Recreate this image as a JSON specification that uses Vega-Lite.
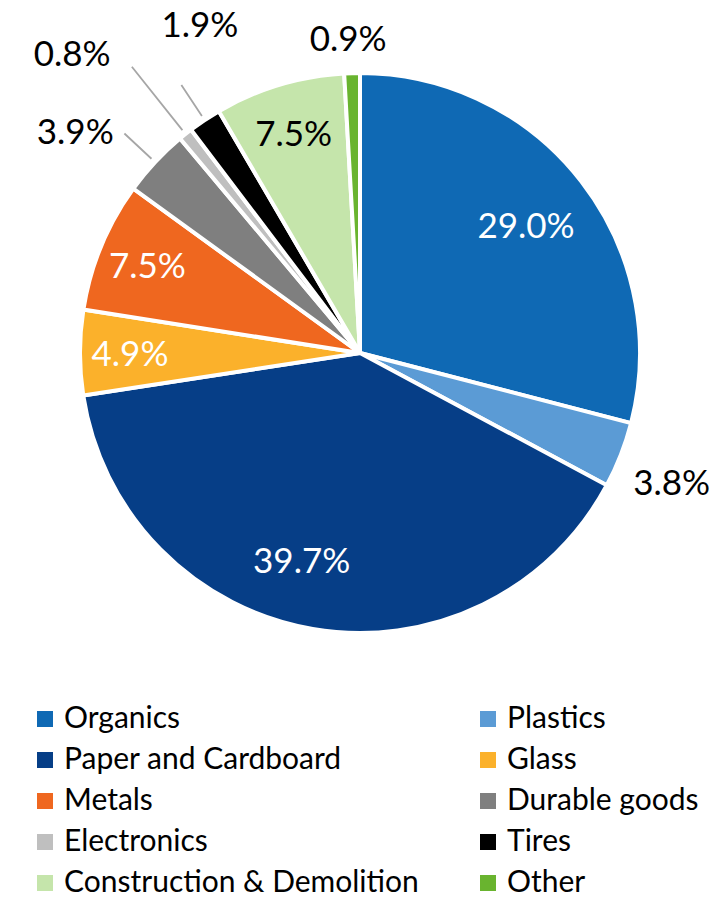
{
  "$schema": "https://vega.github.io/schema/vega-lite/v6.json",
  "width": 720,
  "height": 706,
  "padding": {"left": 0, "top": 0, "right": 0, "bottom": 191},
  "autosize": {"type": "none"},
  "background": "white",
  "config": {"view": {"stroke": null}, "font": "Lato", "text": {"font": "Lato"}},
  "data": {
    "values": [
      {"idx": 1, "category": "Organics", "pct": 29.0, "label": "29.0%"},
      {"idx": 2, "category": "Plastics", "pct": 3.8, "label": "3.8%"},
      {"idx": 3, "category": "Paper and Cardboard", "pct": 39.7, "label": "39.7%"},
      {"idx": 4, "category": "Glass", "pct": 4.9, "label": "4.9%"},
      {"idx": 5, "category": "Metals", "pct": 7.5, "label": "7.5%"},
      {"idx": 6, "category": "Durable goods", "pct": 3.9, "label": "3.9%"},
      {"idx": 7, "category": "Electronics", "pct": 0.8, "label": "0.8%"},
      {"idx": 8, "category": "Tires", "pct": 1.9, "label": "1.9%"},
      {"idx": 9, "category": "Construction & Demolition", "pct": 7.5, "label": "7.5%"},
      {"idx": 10, "category": "Other", "pct": 0.9, "label": "0.9%"}
    ]
  },
  "encoding": {
    "theta": {"field": "pct", "type": "quantitative", "stack": true},
    "order": {"field": "idx", "type": "quantitative"},
    "detail": {"field": "category", "type": "nominal"}
  },
  "layer": [
    {
      "mark": {"type": "arc", "outerRadius": 280, "stroke": "white", "strokeWidth": 4},
      "encoding": {
        "color": {
          "field": "category",
          "type": "nominal",
          "sort": ["Organics", "Plastics", "Paper and Cardboard", "Glass", "Metals", "Durable goods", "Electronics", "Tires", "Construction & Demolition", "Other"],
          "scale": {
            "domain": ["Organics", "Plastics", "Paper and Cardboard", "Glass", "Metals", "Durable goods", "Electronics", "Tires", "Construction & Demolition", "Other"],
            "range": ["#0f69b4", "#5b9bd5", "#063e87", "#fbb12b", "#ef671f", "#7f7f7f", "#bfbfbf", "#000000", "#c5e5ab", "#69b42f"]
          },
          "legend": {
            "title": null,
            "orient": "none",
            "direction": "horizontal",
            "legendX": 30,
            "legendY": 704,
            "columns": 2,
            "columnPadding": 54,
            "rowPadding": 11,
            "padding": 0,
            "symbolType": "square",
            "symbolSize": 256,
            "symbolStrokeWidth": 0,
            "symbolOpacity": 1,
            "labelFont": "Lato",
            "labelFontSize": 30,
            "labelColor": "#000000",
            "labelOffset": 4,
            "labelLimit": 500
          }
        }
      }
    },
    {
      "mark": {"type": "arc", "innerRadius": 285, "outerRadius": 322, "padAngle": 3, "fillOpacity": 0, "stroke": "#a6a6a6", "strokeWidth": 1.8},
      "encoding": {
        "strokeOpacity": {"condition": {"test": "datum.category === 'Durable goods' || datum.category === 'Tires'", "value": 1}, "value": 0}
      }
    },
    {
      "mark": {"type": "arc", "innerRadius": 285, "outerRadius": 366, "padAngle": 3, "fillOpacity": 0, "stroke": "#a6a6a6", "strokeWidth": 1.8},
      "encoding": {
        "strokeOpacity": {"condition": {"test": "datum.category === 'Electronics'", "value": 1}, "value": 0}
      }
    },
    {
      "mark": {"type": "text", "radius": 210, "fontSize": 35, "align": "center", "baseline": "middle", "dy": 3, "color": "white"},
      "encoding": {
        "text": {"field": "label"},
        "opacity": {"condition": {"test": "datum.category === 'Organics'", "value": 1}, "value": 0}
      }
    },
    {
      "mark": {"type": "text", "radius": 215, "fontSize": 35, "align": "center", "baseline": "middle", "dx": -22, "dy": -3, "color": "white"},
      "encoding": {
        "text": {"field": "label"},
        "opacity": {"condition": {"test": "datum.category === 'Paper and Cardboard'", "value": 1}, "value": 0}
      }
    },
    {
      "mark": {"type": "text", "radius": 230, "fontSize": 35, "align": "center", "baseline": "middle", "dy": 2},
      "encoding": {
        "text": {"field": "label"},
        "color": {"condition": {"test": "datum.category === 'Construction & Demolition'", "value": "#000000"}, "value": "#ffffff"},
        "opacity": {"condition": {"test": "datum.category === 'Glass' || datum.category === 'Metals' || datum.category === 'Construction & Demolition'", "value": 1}, "value": 0}
      }
    },
    {
      "mark": {"type": "text", "radius": 340, "fontSize": 35, "align": "center", "baseline": "middle", "dx": -5, "dy": 7, "color": "#000000"},
      "encoding": {
        "text": {"field": "label"},
        "opacity": {"condition": {"test": "datum.category === 'Plastics'", "value": 1}, "value": 0}
      }
    },
    {
      "mark": {"type": "text", "radius": 313, "fontSize": 35, "align": "center", "baseline": "middle", "dx": -3, "color": "#000000"},
      "encoding": {
        "text": {"field": "label"},
        "opacity": {"condition": {"test": "datum.category === 'Other'", "value": 1}, "value": 0}
      }
    },
    {
      "mark": {"type": "text", "radius": 340, "fontSize": 35, "align": "center", "baseline": "middle", "dx": -36, "dy": 12, "color": "#000000"},
      "encoding": {
        "text": {"field": "label"},
        "opacity": {"condition": {"test": "datum.category === 'Durable goods'", "value": 1}, "value": 0}
      }
    },
    {
      "mark": {"type": "text", "radius": 380, "fontSize": 35, "align": "center", "baseline": "middle", "dx": -51, "dy": -1, "color": "#000000"},
      "encoding": {
        "text": {"field": "label"},
        "opacity": {"condition": {"test": "datum.category === 'Electronics'", "value": 1}, "value": 0}
      }
    },
    {
      "mark": {"type": "text", "radius": 350, "fontSize": 35, "align": "center", "baseline": "middle", "dx": 34, "dy": -36, "color": "#000000"},
      "encoding": {
        "text": {"field": "label"},
        "opacity": {"condition": {"test": "datum.category === 'Tires'", "value": 1}, "value": 0}
      }
    }
  ]
}
